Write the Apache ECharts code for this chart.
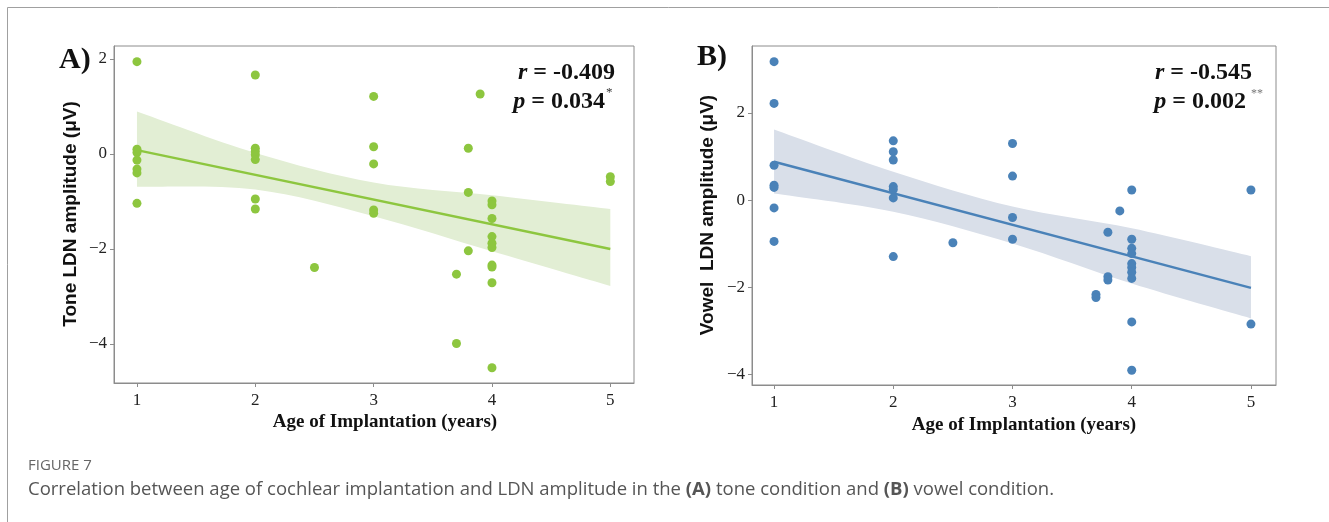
<!DOCTYPE html>
<html>
<head>
<meta charset="utf-8">
<script src="https://cdn.jsdelivr.net/npm/echarts@6.0.0/dist/echarts.min.js"></script>
<style>
  html, body { margin: 0; padding: 0; background: #fff; }
  #main { width: 1329px; height: 522px; }
</style>
</head>
<body>
<div id="main"></div>
<script>
// A) tone condition
const toneAge = [1, 1, 1, 1, 1, 1, 1,
  2, 2, 2, 2, 2, 2, 2,
  2.5,
  3, 3, 3, 3, 3,
  3.7, 3.7,
  3.8, 3.8, 3.8,
  3.9,
  4, 4, 4, 4, 4, 4, 4, 4, 4, 4,
  5, 5]
const toneAmp = [1.94, 0.1, 0.03, -0.13, -0.32, -0.4, -1.04,
  1.66, 0.12, 0.05, -0.02, -0.12, -0.95, -1.16,
  -2.39,
  1.21, 0.15, -0.21, -1.18, -1.25,
  -2.53, -3.99,
  0.12, -0.81, -2.04,
  1.26,
  -0.99, -1.07, -1.36, -1.74, -1.88, -1.97, -2.34, -2.38, -2.71, -4.5,
  -0.48, -0.58]

// B) vowel condition
const vowelAge = [1, 1, 1, 1, 1, 1, 1,
  2, 2, 2, 2, 2, 2, 2,
  2.5,
  3, 3, 3, 3,
  3.7, 3.7,
  3.8, 3.8, 3.8,
  3.9,
  4, 4, 4, 4, 4, 4, 4, 4, 4, 4,
  5, 5]
const vowelAmp = [3.18, 2.22, 0.8, 0.34, 0.29, -0.18, -0.95,
  1.36, 1.11, 0.92, 0.31, 0.24, 0.05, -1.3,
  -0.98,
  1.3, 0.55, -0.4, -0.9,
  -2.17, -2.24,
  -0.74, -1.76, -1.84,
  -0.25,
  0.23, -0.9, -1.11, -1.23, -1.46, -1.55, -1.66, -1.8, -2.8, -3.91,
  0.23, -2.85]

// regression lines and confidence bands
const fitX = [1, 5]
const toneFit = [0.08, -2.0]
const vowelFit = [0.88, -2.02]
const bandX = [1, 2, 3, 4, 5]
const toneUpper = [0.89, 0.02, -0.6, -0.87, -1.16]
const toneLower = [-0.69, -0.75, -1.31, -2.05, -2.78]
const vowelUpper = [1.62, 0.65, -0.15, -0.65, -1.29]
const vowelLower = [0.15, -0.27, -1.0, -1.92, -2.72]

const xTicks = [1, 2, 3, 4, 5]
const yTicks = [-4, -2, 0, 2]

const spine = '#8c8c8c'
const green = '#8dc63f'
const blue = '#4a82b8'

function zip(a, b) {
  return a.map((v, i) => [v, b[i]])
}

function minus(v) {
  return v < 0 ? '\u2212' + Math.abs(v) : String(v)
}

// smooth path through pixel points (catmull-rom as cubic bezier)
function curve(pts, first) {
  let d = (first ? 'M' : 'L') + pts[0][0] + ',' + pts[0][1]
  for (let i = 0; i < pts.length - 1; i++) {
    const p0 = pts[Math.max(i - 1, 0)], p1 = pts[i], p2 = pts[i + 1], p3 = pts[Math.min(i + 2, pts.length - 1)]
    const c1 = [p1[0] + (p2[0] - p0[0]) / 6, p1[1] + (p2[1] - p0[1]) / 6]
    const c2 = [p2[0] - (p3[0] - p1[0]) / 6, p2[1] - (p3[1] - p1[1]) / 6]
    d += 'C' + c1[0] + ',' + c1[1] + ' ' + c2[0] + ',' + c2[1] + ' ' + p2[0] + ',' + p2[1]
  }
  return d
}

function xAxisOf(idx, min, max) {
  return {
    type: 'value', gridIndex: idx, min: min, max: max,
    axisLine: { show: true, onZero: false, lineStyle: { color: spine } },
    axisTick: { show: true, customValues: xTicks, length: 4, lineStyle: { color: spine } },
    axisLabel: { customValues: xTicks, margin: 9, fontFamily: 'Liberation Serif', fontSize: 17, color: '#222' },
    splitLine: { show: false }
  }
}

function yAxisOf(idx, min, max) {
  return {
    type: 'value', gridIndex: idx, min: min, max: max,
    axisLine: { show: true, onZero: false, lineStyle: { color: spine } },
    axisTick: { show: true, customValues: yTicks, length: 4, lineStyle: { color: spine } },
    axisLabel: { customValues: yTicks, margin: 7, fontFamily: 'Liberation Serif', fontSize: 17, color: '#222', formatter: minus },
    splitLine: { show: false }
  }
}

function panelSeries(idx, age, amp, fit, upper, lower, color, bandColor) {
  return [
    {
      type: 'custom', xAxisIndex: idx, yAxisIndex: idx, silent: true, z: 1,
      data: [0],
      renderItem: function (params, api) {
        const up = bandX.map((x, i) => api.coord([x, upper[i]]))
        const lo = bandX.map((x, i) => api.coord([x, lower[i]])).reverse()
        return {
          type: 'path',
          shape: { pathData: curve(up, true) + curve(lo, false) + 'Z' },
          style: { fill: bandColor, stroke: null }
        }
      }
    },
    {
      type: 'line', xAxisIndex: idx, yAxisIndex: idx,
      data: zip(fitX, fit), symbol: 'none',
      lineStyle: { color: color, width: 2.4 }, z: 2
    },
    {
      type: 'scatter', xAxisIndex: idx, yAxisIndex: idx,
      data: zip(age, amp), symbolSize: 9,
      itemStyle: { color: color, opacity: 1 }, z: 3
    }
  ]
}

const statRich = { i: { fontStyle: 'italic', fontWeight: 'bold', fontSize: 24, fontFamily: 'Liberation Serif' } }

function txt(x, y, text, font, opts) {
  return {
    type: 'text', x: x, y: y, z: 10,
    style: Object.assign({ text: text, font: font, fill: '#111', align: 'left', verticalAlign: 'middle' }, opts || {})
  }
}

var myChart = echarts.init(document.getElementById('main'))

var option = {
  animation: false,
  backgroundColor: '#fff',
  grid: [
    { left: 114, top: 46, width: 520, height: 337, show: true, borderColor: spine, borderWidth: 1 },
    { left: 752, top: 46, width: 524, height: 339, show: true, borderColor: spine, borderWidth: 1 }
  ],
  xAxis: [xAxisOf(0, 0.806, 5.2), xAxisOf(1, 0.815, 5.21)],
  yAxis: [yAxisOf(0, -4.82, 2.27), yAxisOf(1, -4.25, 3.54)],
  series: panelSeries(0, toneAge, toneAmp, toneFit, toneUpper, toneLower, green, '#e2eed4')
    .concat(panelSeries(1, vowelAge, vowelAmp, vowelFit, vowelUpper, vowelLower, blue, '#d9dfe9')),
  graphic: [
    // outer frame of the figure
    { type: 'line', shape: { x1: 7.5, y1: 7.5, x2: 1329, y2: 7.5 }, style: { stroke: '#a0a0a0', lineWidth: 1 } },
    { type: 'line', shape: { x1: 7.5, y1: 7.5, x2: 7.5, y2: 522 }, style: { stroke: '#a0a0a0', lineWidth: 1 } },

    // panel letters
    txt(59, 60, 'A)', 'bold 30px "Liberation Serif"'),
    txt(697, 57, 'B)', 'bold 30px "Liberation Serif"'),

    // axis titles
    Object.assign(txt(71, 214, 'Tone LDN amplitude (\u03bcV)', 'bold 19px "Liberation Sans"', { align: 'center' }), { rotation: Math.PI / 2 }),
    Object.assign(txt(708, 215, 'Vowel  LDN amplitude (\u03bcV)', 'bold 19px "Liberation Sans"', { align: 'center' }), { rotation: Math.PI / 2 }),
    txt(385, 422, 'Age of Implantation (years)', 'bold 19px "Liberation Serif"', { align: 'center' }),
    txt(1024, 425, 'Age of Implantation (years)', 'bold 19px "Liberation Serif"', { align: 'center' }),

    // statistics
    txt(615, 73, '{i|r} = -0.409', 'bold 24px "Liberation Serif"', { align: 'right', rich: statRich }),
    txt(605, 102, '{i|p} = 0.034', 'bold 24px "Liberation Serif"', { align: 'right', rich: statRich }),
    txt(606, 93, '*', '13px "Liberation Serif"', { fill: '#333' }),
    txt(1252, 73, '{i|r} = -0.545', 'bold 24px "Liberation Serif"', { align: 'right', rich: statRich }),
    txt(1246, 102, '{i|p} = 0.002', 'bold 24px "Liberation Serif"', { align: 'right', rich: statRich }),
    txt(1251, 94, '**', '12px "Liberation Serif"', { fill: '#777' }),

    // caption
    txt(28, 466, 'FIGURE 7', '15px "Open Sans"', { fill: '#666' }),
    txt(28, 490, 'Correlation between age of cochlear implantation and LDN amplitude in the {b|(A)} tone condition and {b|(B)} vowel condition.',
      '18.5px "Open Sans"', { fill: '#555', rich: { b: { fontWeight: 'bold', fontSize: 18.5, fontFamily: 'Open Sans', color: '#444' } } })
  ]
}

myChart.setOption(option)
</script>
</body>
</html>
